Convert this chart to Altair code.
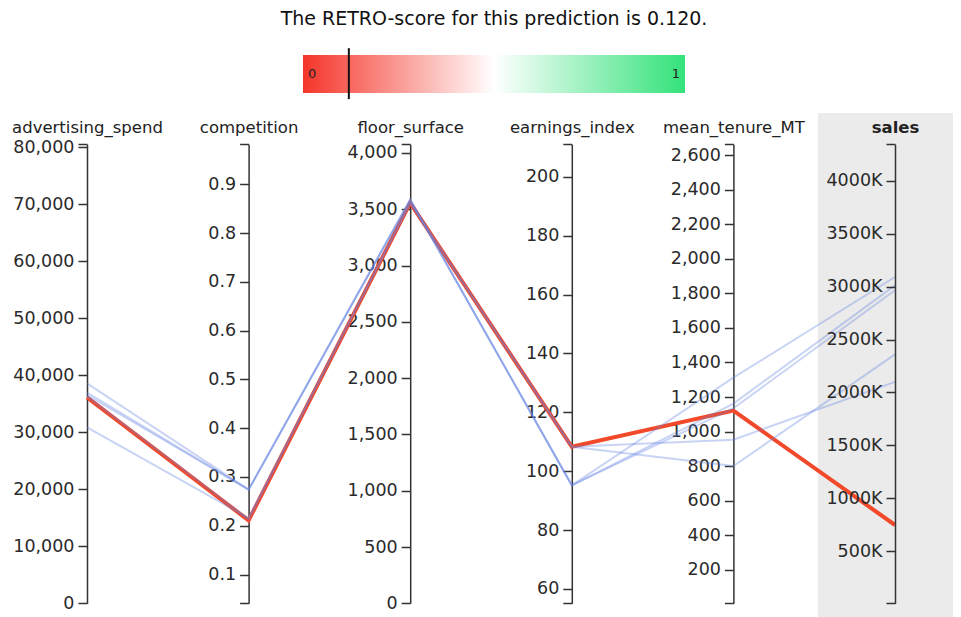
import json
import altair as alt
import pandas as pd

# ---------------- data ----------------
variables = ["advertising_spend", "competition", "floor_surface",
             "earnings_index", "mean_tenure_MT", "sales"]
domain_min = [0, 0.041, 0, 55.1, 5, 5300]
domain_max = [80520, 0.982, 4077, 211.1, 2664, 4347000]
tick_values = [
    [0, 10000, 20000, 30000, 40000, 50000, 60000, 70000, 80000],
    [0.1, 0.2, 0.3, 0.4, 0.5, 0.6, 0.7, 0.8, 0.9],
    [0, 500, 1000, 1500, 2000, 2500, 3000, 3500, 4000],
    [60, 80, 100, 120, 140, 160, 180, 200],
    [200, 400, 600, 800, 1000, 1200, 1400, 1600, 1800, 2000, 2200, 2400, 2600],
    [500000, 1000000, 1500000, 2000000, 2500000, 3000000, 3500000, 4000000],
]
tick_formats = [",", ".1f", ",", "d", ",", "K"]

# the explained prediction
prediction = [36130, 0.211, 3556, 108.3, 1121, 746000]
# its nearest neighbours (one list per variable)
nb_advertising_spend = [38590, 36940, 36540, 36300, 30870]
nb_competition = [0.274, 0.274, 0.274, 0.213, 0.216]
nb_floor_surface = [3585, 3585, 3585, 3556, 3556]
nb_earnings_index = [95.2, 95.2, 95.2, 108.3, 108.3]
nb_mean_tenure_MT = [1312, 1162, 1135, 953, 800]
nb_sales = [3092000, 3013000, 2966000, 2100000, 2360000]

retro_score = 0.120
title_text = f"The RETRO-score for this prediction is {retro_score:.3f}."

# ---------------- layout ----------------
W, H = 945, 609
AX_X0, AX_STEP = 79, 161.6
AX_TOP, AX_BOTTOM = 136.3, 595.3
FONT = "DejaVu Sans"
BLUE, RED = "#6384e2", "#f2492a"

x_dom = [-AX_X0 / AX_STEP, (W - AX_X0) / AX_STEP]
x_scale = alt.Scale(domain=x_dom, range=[0, W], nice=False, zero=False)
y_norm_scale = alt.Scale(domain=[0, 1], range=[AX_BOTTOM, AX_TOP], nice=False, zero=False)

# long table of normalised values
neighbours = [nb_advertising_spend, nb_competition, nb_floor_surface,
              nb_earnings_index, nb_mean_tenure_MT, nb_sales]
rows = []
for k in range(len(nb_sales)):
    for i, var in enumerate(variables):
        v = neighbours[i][k]
        rows.append({"line": f"n{k}", "pos": i, "var": var, "value": v,
                     "norm": (v - domain_min[i]) / (domain_max[i] - domain_min[i])})
df_nb = pd.DataFrame(rows)
df_pred = pd.DataFrame([{"line": "pred", "pos": i, "var": var, "value": prediction[i],
                         "norm": (prediction[i] - domain_min[i]) / (domain_max[i] - domain_min[i])}
                        for i, var in enumerate(variables)])

# highlighted target column band
band = pd.DataFrame([{"x": 4.5235, "x2": x_dom[1], "y": 1.068, "y2": -0.04}])
band_layer = alt.Chart(band).mark_rect(color="#ebebeb").encode(
    x=alt.X("x:Q", scale=x_scale, axis=None), x2="x2:Q",
    y=alt.Y("y:Q", scale=y_norm_scale, axis=None), y2="y2:Q")

pred_layer = alt.Chart(df_pred).mark_line(color=RED, strokeWidth=4).encode(
    x=alt.X("pos:Q", scale=x_scale, axis=None),
    y=alt.Y("norm:Q", scale=y_norm_scale, axis=None),
    detail="line:N")

nb_layer = alt.Chart(df_nb).mark_line(color=BLUE, strokeWidth=2, opacity=0.35).encode(
    x=alt.X("pos:Q", scale=x_scale, axis=None),
    y=alt.Y("norm:Q", scale=y_norm_scale, axis=None),
    detail="line:N")

# one axis per variable
axis_layers = []
for i, var in enumerate(variables):
    dmin, dmax = domain_min[i], domain_max[i]
    ticks = tick_values[i]
    vals = list(ticks)
    for e in (dmin, dmax):
        if e not in vals:
            vals.append(e)
    if tick_formats[i] == "K":
        fexpr = "format(datum.value/1000, 'd') + 'K'"
    else:
        fexpr = f"format(datum.value, '{tick_formats[i]}')"
    lexpr = f"indexof({json.dumps(ticks)}, datum.value) < 0 ? '' : {fexpr}"
    ax = alt.Axis(
        orient="left", offset=-(AX_X0 + i * AX_STEP), values=vals, labelExpr=lexpr,
        title=var, titleAngle=0, titleX=0, titleY=AX_TOP - 12, titleAlign="center",
        titleBaseline="alphabetic", titleFont=FONT, titleFontSize=16.5,
        titleFontWeight="bold" if var == "sales" else "normal", titleColor="#222",
        labelFont=FONT, labelFontSize=17.5, labelColor="#2a2a2a", labelPadding=4,
        labelFlush=False, labelOverlap=False, labelBound=False,
        tickSize=9, tickColor="#333", tickWidth=1.5,
        domainColor="#333", domainWidth=1.5, grid=False,
        zindex=1 if var == "sales" else 0)
    axis_layers.append(
        alt.Chart(pd.DataFrame({"v": [dmin, dmax]})).mark_point(opacity=0).encode(
            y=alt.Y("v:Q", scale=alt.Scale(domain=[dmin, dmax], range=[AX_BOTTOM, AX_TOP],
                                           nice=False, zero=False), axis=ax)))

# RETRO-score colour bar
g_x = alt.Scale(domain=[0, 1], range=[295, 677], nice=False, zero=False)
g_y = alt.Scale(domain=[0, 1], range=[85, 47], nice=False, zero=False)
gradient = alt.Gradient(gradient="linear", x1=0, x2=1, y1=0, y2=0, stops=[
    alt.GradientStop(color="#f5352a", offset=0),
    alt.GradientStop(color="#ffffff", offset=0.5),
    alt.GradientStop(color="#33e27a", offset=1)])
bar_df = pd.DataFrame([{"x": 0, "x2": 1, "y": 0, "y2": 1}])
bar_layer = alt.Chart(bar_df).mark_rect(fill=gradient).encode(
    x=alt.X("x:Q", scale=g_x, axis=None), x2="x2:Q",
    y=alt.Y("y:Q", scale=g_y, axis=None), y2="y2:Q")
lab0 = alt.Chart(pd.DataFrame([{"x": 0, "y": 0.5, "t": "0"}])).mark_text(
    align="left", dx=5, baseline="middle", font=FONT, fontSize=13, color="#222").encode(
    x=alt.X("x:Q", scale=g_x, axis=None), y=alt.Y("y:Q", scale=g_y, axis=None), text="t:N")
lab1 = alt.Chart(pd.DataFrame([{"x": 1, "y": 0.5, "t": "1"}])).mark_text(
    align="right", dx=-5, baseline="middle", font=FONT, fontSize=13, color="#222").encode(
    x=alt.X("x:Q", scale=g_x, axis=None), y=alt.Y("y:Q", scale=g_y, axis=None), text="t:N")
marker_df = pd.DataFrame([{"x": retro_score, "y": -0.16, "y2": 1.18}])
marker = alt.Chart(marker_df).mark_rule(color="#111", strokeWidth=2).encode(
    x=alt.X("x:Q", scale=g_x, axis=None),
    y=alt.Y("y:Q", scale=g_y, axis=None), y2="y2:Q")
title_layer = alt.Chart(pd.DataFrame([{"x": 0.5, "t": title_text}])).mark_text(
    align="center", baseline="alphabetic", font=FONT, fontSize=19, color="#111").encode(
    x=alt.X("x:Q", scale=g_x, axis=None), y=alt.value(17), text="t:N")

chart = alt.layer(
    band_layer, pred_layer, nb_layer, *axis_layers, bar_layer, lab0, lab1, marker, title_layer
).resolve_scale(x="independent", y="independent").properties(
    width=W, height=H,
    autosize=alt.AutoSizeParams(type="none"),
    padding=0,
).configure_view(stroke=None)

chart.save("out.html", embed_options={"renderer": "svg", "actions": False})
